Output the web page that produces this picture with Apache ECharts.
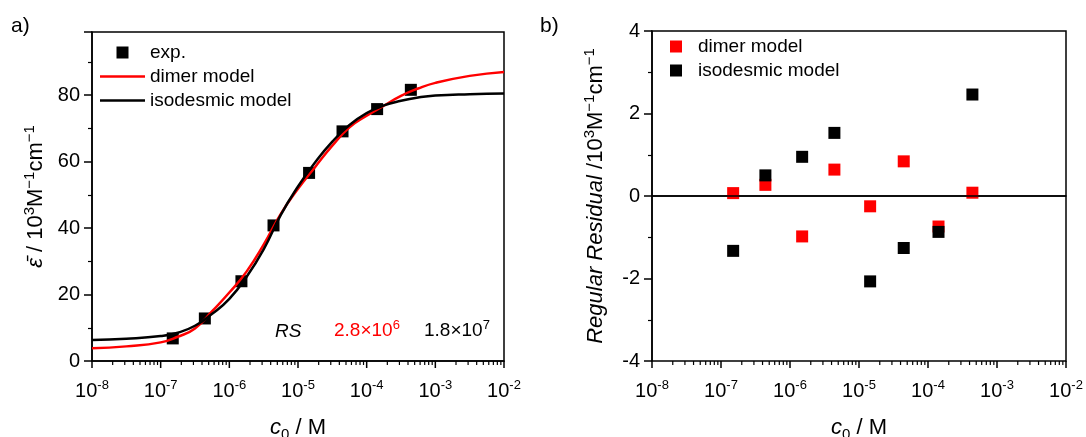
<!DOCTYPE html>
<html>
<head>
<meta charset="utf-8">
<script src="https://cdn.jsdelivr.net/npm/echarts@6/dist/echarts.min.js"></script>
<style>
html, body { margin: 0; padding: 0; background: #fff; }
#chart { width: 1086px; height: 437px; }
</style>
</head>
<body>
<div id="chart"></div>
<script>
// measured concentrations c0 (M)
const c0 = [1.5e-7, 4.4e-7, 1.5e-6, 4.4e-6, 1.45e-5, 4.45e-5, 1.42e-4, 4.4e-4]
// mean extinction coefficient (10^3 M^-1 cm^-1)
const epsExp = [6.8, 12.8, 24.0, 40.8, 56.6, 69.1, 75.8, 81.6]
// fitted curves
const cFit = [1e-8, 3.16e-8, 1e-7, 1.78e-7, 3.16e-7, 5.62e-7, 1e-6, 1.78e-6, 3.16e-6, 5.62e-6, 1e-5,
  1.78e-5, 3.16e-5, 5.62e-5, 1e-4, 1.78e-4, 3.16e-4, 5.62e-4, 1e-3, 3.16e-3, 1e-2]
const dimerFit = [3.8, 4.4, 5.6, 7.3, 9.8, 15.0, 20.6, 26.9, 35.0, 44.3, 51.8,
  58.4, 64.8, 70.3, 73.8, 76.8, 79.8, 82.0, 83.7, 85.8, 87.0]
const isoFit = [6.3, 6.7, 7.5, 8.5, 10.6, 14.2, 18.7, 25.3, 33.6, 44.0, 52.5,
  59.8, 66.0, 71.0, 74.6, 76.9, 78.3, 79.3, 79.9, 80.3, 80.5]
// regular residuals (10^3 M^-1 cm^-1)
const dimerRes = [0.07, 0.27, -0.98, 0.64, -0.25, 0.84, -0.74, 0.08]
const isoRes = [-1.33, 0.5, 0.95, 1.53, -2.07, -1.26, -0.87, 2.46]
// tick values
const epsTicks = [0, 20, 40, 60, 80]
const resTicks = [-4, -2, 0, 2, 4]
const decades = [-8, -7, -6, -5, -4, -3, -2]
const minorSteps = [2, 3, 4, 5, 6, 7, 8, 9]

const FONT = '"Liberation Sans", Arial, sans-serif'
const RED = '#ff0000'
const BLACK = '#000000'

const pairs = (xs, ys) => xs.map((x, i) => [x, ys[i]])

// x tick list for the log axis: [value, isMajor]
const xTicks = []
decades.forEach((d, i) => {
  xTicks.push([Math.pow(10, d), 1])
  if (i < decades.length - 1) minorSteps.forEach(k => xTicks.push([k * Math.pow(10, d), 0]))
})

const tickRich = {
  b: { fontSize: 20, fontFamily: FONT, color: BLACK, lineHeight: 24 },
  s: { fontSize: 13, fontFamily: FONT, color: BLACK, verticalAlign: 'top', lineHeight: 24 }
}
const nameRich = {
  n: { fontSize: 22, fontFamily: FONT, color: BLACK, lineHeight: 28 },
  i: { fontSize: 22, fontFamily: FONT, fontStyle: 'italic', color: BLACK, lineHeight: 28 },
  s: { fontSize: 15, fontFamily: FONT, color: BLACK, verticalAlign: 'top', lineHeight: 28 },
  sub: { fontSize: 15, fontFamily: FONT, color: BLACK, verticalAlign: 'bottom', lineHeight: 28 }
}
const axisLine = { show: true, lineStyle: { color: BLACK, width: 1.5 } }

function xAxis(gridIndex) {
  return {
    type: 'log', logBase: 10, gridIndex, min: 1e-8, max: 1e-2, interval: 1,
    name: '{i|c}{sub|0}{n| / M}', nameLocation: 'middle', nameGap: 53,
    nameTextStyle: { rich: nameRich },
    axisLine,
    axisTick: { show: false },
    minorTick: { show: false },
    splitLine: { show: false },
    axisLabel: {
      margin: 18,
      formatter: v => '{b|10}{s|' + Math.round(Math.log10(v)) + '}',
      rich: tickRich
    }
  }
}

function yAxis(gridIndex, min, max, interval, ticks, name, nameGap) {
  return {
    type: 'value', gridIndex, min, max, interval,
    name, nameLocation: 'middle', nameRotate: 90, nameGap,
    nameTextStyle: { rich: nameRich },
    axisLine,
    axisTick: { show: true, length: 8, lineStyle: { color: BLACK, width: 1.5 } },
    minorTick: { show: true, splitNumber: 2, length: 4, lineStyle: { color: BLACK, width: 1.2 } },
    splitLine: { show: false },
    axisLabel: {
      margin: 12, fontSize: 20, color: BLACK, fontFamily: FONT, showMaxLabel: ticks.includes(max),
      formatter: v => ticks.includes(v) ? String(v) : ''
    }
  }
}

// log-axis ticks drawn through the axis scale
function tickSeries(xAxisIndex, yAxisIndex, yMin) {
  return {
    type: 'custom', xAxisIndex, yAxisIndex, silent: true, clip: false, z: 5,
    data: xTicks.map(t => [t[0], yMin, t[1]]),
    renderItem: (params, api) => {
      const p = api.coord([api.value(0), api.value(1)])
      const major = api.value(2) === 1
      return {
        type: 'line',
        shape: { x1: p[0], y1: p[1], x2: p[0], y2: p[1] + (major ? 7 : 4) },
        style: { stroke: BLACK, lineWidth: major ? 1.5 : 1.2 }
      }
    }
  }
}

function supText(base, sup, color) {
  return {
    text: '{n|' + base + '}{s|' + sup + '}',
    rich: {
      n: { fontSize: 19, fontFamily: FONT, fill: color, color, lineHeight: 24 },
      s: { fontSize: 13, fontFamily: FONT, fill: color, color, verticalAlign: 'top', lineHeight: 24 }
    }
  }
}

const squareIcon = 'path://M0,0L10,0L10,10L0,10Z'
const lineIcon = 'path://M0,0L45,0L45,2.5L0,2.5Z'

const chart = echarts.init(document.getElementById('chart'))
chart.setOption({
  animation: false,
  backgroundColor: '#fff',
  textStyle: { fontFamily: FONT, color: BLACK },
  grid: [
    { left: 92, top: 32, width: 412, height: 329, show: true, borderColor: BLACK, borderWidth: 1.5, outerBoundsMode: 'none', containLabel: false },
    { left: 652, top: 31, width: 414, height: 330, show: true, borderColor: BLACK, borderWidth: 1.5, outerBoundsMode: 'none', containLabel: false }
  ],
  xAxis: [xAxis(0), xAxis(1)],
  yAxis: [
    yAxis(0, 0, 99, 20, epsTicks, '{i|ε̄}{n| / 10}{s|3}{n|M}{s|−1}{n|cm}{s|−1}', 42),
    yAxis(1, -4, 4, 2, resTicks, '{i|Regular Residual}{n| /10}{s|3}{n|M}{s|−1}{n|cm}{s|−1}', 42)
  ],
  legend: [
    {
      data: [
        { name: 'exp.', icon: squareIcon },
        { name: 'dimer model', icon: lineIcon },
        { name: 'isodesmic model', icon: lineIcon }
      ],
      orient: 'vertical', left: 100, top: 43, padding: 0, itemWidth: 45, itemHeight: 12, itemGap: 5,
      textStyle: { fontSize: 19, color: BLACK, fontFamily: FONT },
      selectedMode: false
    },
    {
      data: [
        { name: 'dimer residual', icon: squareIcon },
        { name: 'isodesmic residual', icon: squareIcon }
      ],
      formatter: n => n.replace('residual', 'model'),
      orient: 'vertical', left: 670, top: 37, padding: 0, itemWidth: 34, itemHeight: 12, itemGap: 5,
      textStyle: { fontSize: 19, color: BLACK, fontFamily: FONT },
      selectedMode: false
    }
  ],
  graphic: [
    { type: 'text', left: 11, top: 16, style: { text: 'a)', font: '21px ' + FONT, fill: BLACK } },
    { type: 'text', left: 540, top: 16, style: { text: 'b)', font: '21px ' + FONT, fill: BLACK } },
    { type: 'text', left: 275, top: 322, style: { text: 'RS', font: 'italic 19px ' + FONT, fill: BLACK } },
    { type: 'text', left: 334, top: 319, style: supText('2.8×10', '6', RED) },
    { type: 'text', left: 424, top: 319, style: supText('1.8×10', '7', BLACK) }
  ],
  series: [
    {
      name: 'dimer model', type: 'line', xAxisIndex: 0, yAxisIndex: 0,
      data: pairs(cFit, dimerFit), smooth: true, symbol: 'none',
      lineStyle: { color: RED, width: 2.5 }, itemStyle: { color: RED }
    },
    {
      name: 'isodesmic model', type: 'line', xAxisIndex: 0, yAxisIndex: 0,
      data: pairs(cFit, isoFit), smooth: true, symbol: 'none',
      lineStyle: { color: BLACK, width: 2.5 }, itemStyle: { color: BLACK }
    },
    {
      name: 'exp.', type: 'scatter', xAxisIndex: 0, yAxisIndex: 0,
      data: pairs(c0, epsExp), symbol: 'rect', symbolSize: 12,
      itemStyle: { color: BLACK, opacity: 1 }
    },
    {
      name: 'dimer residual', type: 'scatter', xAxisIndex: 1, yAxisIndex: 1,
      data: pairs(c0, dimerRes), symbol: 'rect', symbolSize: 12,
      itemStyle: { color: RED, opacity: 1 }
    },
    {
      name: 'isodesmic residual', type: 'scatter', xAxisIndex: 1, yAxisIndex: 1,
      data: pairs(c0, isoRes), symbol: 'rect', symbolSize: 12,
      itemStyle: { color: BLACK, opacity: 1 },
      markLine: {
        silent: true, symbol: 'none', label: { show: false },
        lineStyle: { color: BLACK, width: 1.5, type: 'solid' },
        data: [{ yAxis: 0 }]
      }
    },
    tickSeries(0, 0, 0),
    tickSeries(1, 1, -4)
  ]
})
</script>
</body>
</html>
